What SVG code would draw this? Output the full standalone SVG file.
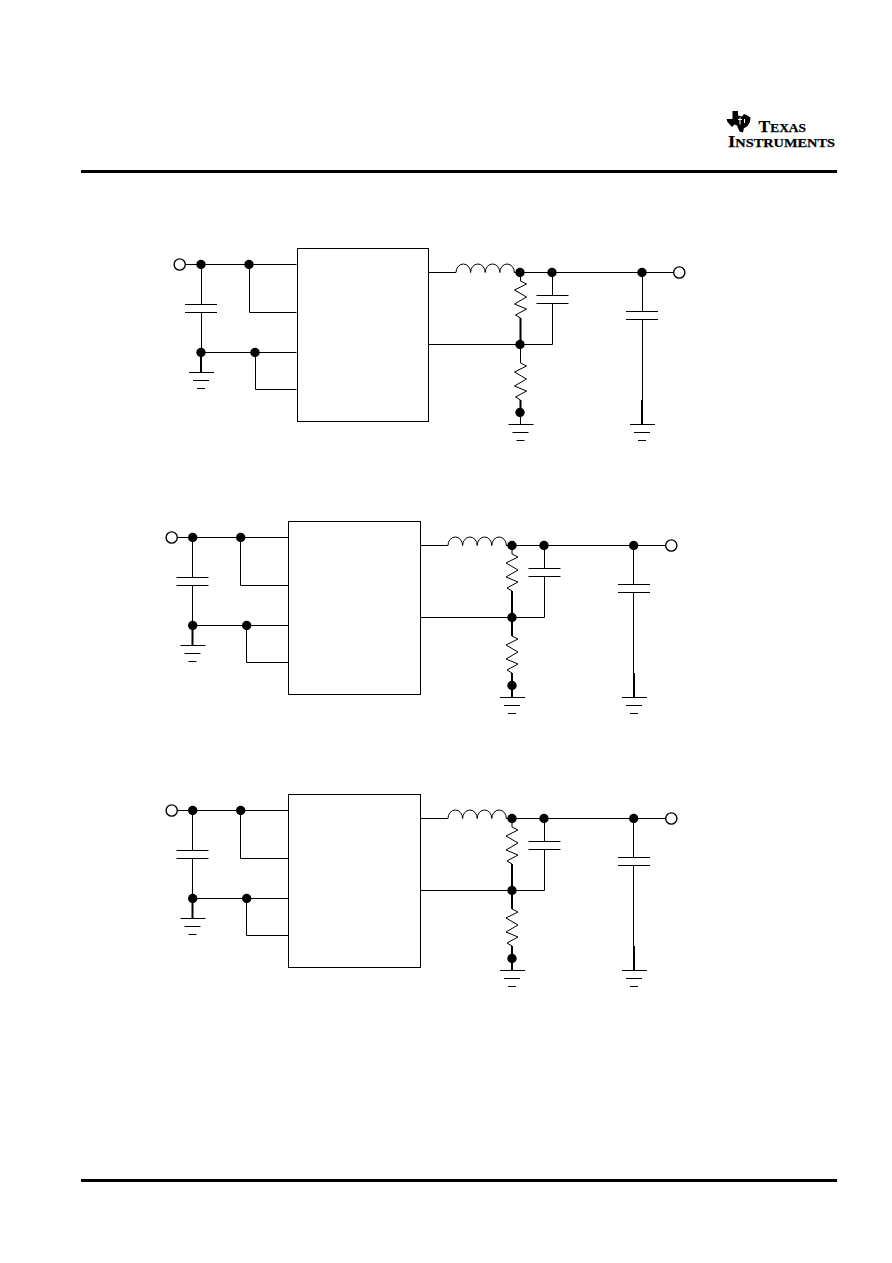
<svg xmlns="http://www.w3.org/2000/svg" width="892" height="1263" viewBox="0 0 892 1263">
<style>
.w{fill:none;stroke:#000;stroke-width:1}
.t{fill:none;stroke:#000;stroke-width:2}
.j{fill:#000;stroke:none}
.o{fill:#fff;stroke:#000;stroke-width:1.4}
.box{fill:#fff;stroke:#000;stroke-width:1}
.logo{font-family:"Liberation Serif",serif;font-weight:bold;fill:#000;stroke:#000;stroke-width:.25}
</style>
<defs>
<path id="res" class="w" d="M0 0L6 3L-6 9L6 16L-6 23L6 28L-5 34L0 37"/>
<path id="ind" class="w" d="M0 0a7.3 8.5 0 0 1 14.6 0a7.3 8.5 0 0 1 14.6 0a7.3 8.5 0 0 1 14.6 0a7.3 8.5 0 0 1 14.6 0"/>
<path id="cap" class="w" d="M-16 0H16M-16 8H16"/>
<path id="gnd" class="w" d="M-12 0H13M-8 8H8M-4 16H4"/>
<circle id="dot" class="j" r="4.7"/>
<circle id="term" class="o" r="5.6"/>
</defs>
<rect x="81" y="170" width="756" height="3" fill="#000"/>
<rect x="81" y="1179" width="756" height="3" fill="#000"/>
<g id="ti-logo">
<path fill="#000" d="M732.5 111H738V115.5L742 116.5L744 114L746.5 115L750.5 117.5L750 122L747.5 126L743.8 128.5L743 132.5L739.5 131.5L737 125.5L734.5 124.5L732 127L727.5 122L726.5 119H732.5Z"/>
<path fill="none" stroke="#fff" stroke-width="1" d="M740 117.5V124.5M738 119.5H742M744.5 119V123"/>
<text class="logo" x="758.5" y="132.3" font-size="17" textLength="47.5" lengthAdjust="spacingAndGlyphs">T<tspan font-size="13">EXAS</tspan></text>
<text class="logo" x="728" y="146.7" font-size="17" textLength="107" lengthAdjust="spacingAndGlyphs">I<tspan font-size="13">NSTRUMENTS</tspan></text>
</g>

<g id="circuit-1" transform="translate(8,-273)">
<g id="c1-connectors">
<path class="w" d="M177 537.5H288.5M193.5 537.5V577.5M193.5 585.5V625.5H288.5M241.5 537.5V585.5H288.5M247.5 625.5V662.5H288.5"/>
<path class="t" d="M193 625.5V645.5"/>
<path class="w" d="M420.5 545.5H448M506 545.5H666M512.5 545.5V554M544.5 545.5V568M544.5 576V617.5H420.5M634.5 545.5V584.5M634.5 592.5V697.5M512.5 617.5V636M512.5 685.5V697.5"/>
<path class="t" d="M512.5 591V617.5M512.5 673V685.5M634 673V697.5"/>
</g>
<g id="c1-ic"><rect class="box" x="289.5" y="521.5" width="131" height="173"/></g>
<g id="c1-vin"><use href="#term" x="171.7" y="537.5"/></g>
<g id="c1-vout"><use href="#term" x="671.3" y="545.5"/></g>
<g id="c1-j1"><use href="#dot" x="193" y="537.5"/></g>
<g id="c1-j2"><use href="#dot" x="241" y="537.5"/></g>
<g id="c1-j3"><use href="#dot" x="193" y="625.5"/></g>
<g id="c1-j4"><use href="#dot" x="247" y="625.5"/></g>
<g id="c1-j5"><use href="#dot" x="512" y="545.5"/></g>
<g id="c1-j6"><use href="#dot" x="544" y="545.5"/></g>
<g id="c1-j7"><use href="#dot" x="634" y="545.5"/></g>
<g id="c1-j8"><use href="#dot" x="512" y="617.5"/></g>
<g id="c1-j9"><use href="#dot" x="512" y="685.5"/></g>
<g id="c1-cin"><use href="#cap" x="193" y="577.5"/></g>
<g id="c1-cff"><use href="#cap" x="544.5" y="568.5"/></g>
<g id="c1-cout"><use href="#cap" x="634" y="584.5"/></g>
<g id="c1-l"><use href="#ind" x="448" y="545.5"/></g>
<g id="c1-r1"><use href="#res" x="512.5" y="554"/></g>
<g id="c1-r2"><use href="#res" x="512.5" y="636"/></g>
<g id="c1-g1"><use href="#gnd" x="193" y="645.5"/></g>
<g id="c1-g2"><use href="#gnd" x="512.5" y="697.5"/></g>
<g id="c1-g3"><use href="#gnd" x="634" y="697.5"/></g>
</g>

<g id="circuit-2">
<g id="c2-connectors">
<path class="w" d="M177 537.5H288.5M192.5 537.5V577.5M192.5 585.5V625.5H288.5M240.5 537.5V585.5H288.5M246.5 625.5V662.5H288.5"/>
<path class="t" d="M192.5 625.5V645.5"/>
<path class="w" d="M420.5 545.5H448M506 545.5H666M512 545.5V554M544.5 545.5V568M544.5 576V617.5H420.5M633.5 545.5V584.5M633.5 592.5V697.5"/>
<path class="t" d="M512 591V636M512 673V697.5M634 673V697.5"/>
</g>
<g id="c2-ic"><rect class="box" x="288.5" y="521.5" width="132" height="173"/></g>
<g id="c2-vin"><use href="#term" x="171.7" y="537.5"/></g>
<g id="c2-vout"><use href="#term" x="671.3" y="545.5"/></g>
<g id="c2-j1"><use href="#dot" x="192.7" y="537.5"/></g>
<g id="c2-j2"><use href="#dot" x="240.7" y="537.5"/></g>
<g id="c2-j3"><use href="#dot" x="192.7" y="625.5"/></g>
<g id="c2-j4"><use href="#dot" x="246.7" y="625.5"/></g>
<g id="c2-j5"><use href="#dot" x="512" y="545.5"/></g>
<g id="c2-j6"><use href="#dot" x="544" y="545.5"/></g>
<g id="c2-j7"><use href="#dot" x="633.7" y="545.5"/></g>
<g id="c2-j8"><use href="#dot" x="512" y="617.5"/></g>
<g id="c2-j9"><use href="#dot" x="512" y="685.5"/></g>
<g id="c2-cin"><use href="#cap" x="192.5" y="577.5"/></g>
<g id="c2-cff"><use href="#cap" x="544.5" y="568.5"/></g>
<g id="c2-cout"><use href="#cap" x="634" y="584.5"/></g>
<g id="c2-l"><use href="#ind" x="448" y="545.5"/></g>
<g id="c2-r1"><use href="#res" x="512" y="554"/></g>
<g id="c2-r2"><use href="#res" x="512" y="636"/></g>
<g id="c2-g1"><use href="#gnd" x="192.5" y="645.5"/></g>
<g id="c2-g2"><use href="#gnd" x="512" y="697.5"/></g>
<g id="c2-g3"><use href="#gnd" x="634" y="697.5"/></g>
</g>

<g id="circuit-3" transform="translate(0,273)">
<g id="c3-connectors">
<path class="w" d="M177 537.5H288.5M192.5 537.5V577.5M192.5 585.5V625.5H288.5M240.5 537.5V585.5H288.5M246.5 625.5V662.5H288.5"/>
<path class="t" d="M192.5 625.5V645.5"/>
<path class="w" d="M420.5 545.5H448M506 545.5H666M512 545.5V554M544.5 545.5V568M544.5 576V617.5H420.5M633.5 545.5V584.5M633.5 592.5V697.5"/>
<path class="t" d="M512 591V636M512 673V697.5M634 673V697.5"/>
</g>
<g id="c3-ic"><rect class="box" x="288.5" y="521.5" width="132" height="173"/></g>
<g id="c3-vin"><use href="#term" x="171.7" y="537.5"/></g>
<g id="c3-vout"><use href="#term" x="671.3" y="545.5"/></g>
<g id="c3-j1"><use href="#dot" x="192.7" y="537.5"/></g>
<g id="c3-j2"><use href="#dot" x="240.7" y="537.5"/></g>
<g id="c3-j3"><use href="#dot" x="192.7" y="625.5"/></g>
<g id="c3-j4"><use href="#dot" x="246.7" y="625.5"/></g>
<g id="c3-j5"><use href="#dot" x="512" y="545.5"/></g>
<g id="c3-j6"><use href="#dot" x="544" y="545.5"/></g>
<g id="c3-j7"><use href="#dot" x="633.7" y="545.5"/></g>
<g id="c3-j8"><use href="#dot" x="512" y="617.5"/></g>
<g id="c3-j9"><use href="#dot" x="512" y="685.5"/></g>
<g id="c3-cin"><use href="#cap" x="192.5" y="577.5"/></g>
<g id="c3-cff"><use href="#cap" x="544.5" y="568.5"/></g>
<g id="c3-cout"><use href="#cap" x="634" y="584.5"/></g>
<g id="c3-l"><use href="#ind" x="448" y="545.5"/></g>
<g id="c3-r1"><use href="#res" x="512" y="554"/></g>
<g id="c3-r2"><use href="#res" x="512" y="636"/></g>
<g id="c3-g1"><use href="#gnd" x="192.5" y="645.5"/></g>
<g id="c3-g2"><use href="#gnd" x="512" y="697.5"/></g>
<g id="c3-g3"><use href="#gnd" x="634" y="697.5"/></g>
</g>
</svg>
